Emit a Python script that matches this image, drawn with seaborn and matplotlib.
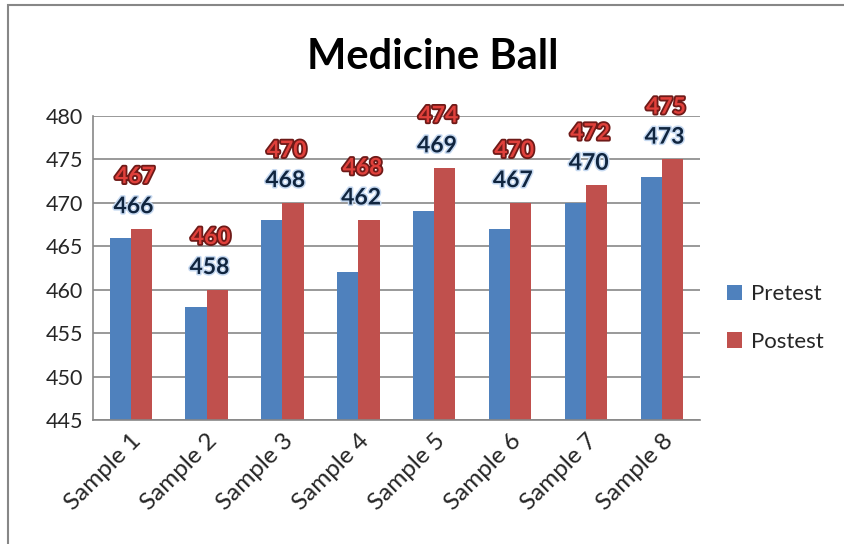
import pandas as pd
import seaborn as sns
import matplotlib.pyplot as plt
import matplotlib.patheffects as pe
from matplotlib.patches import Rectangle

samples = ["Sample 1", "Sample 2", "Sample 3", "Sample 4",
           "Sample 5", "Sample 6", "Sample 7", "Sample 8"]
pretest = [466, 458, 468, 462, 469, 467, 470, 473]
postest = [467, 460, 470, 468, 474, 470, 472, 475]
series = ["Pretest", "Postest"]
colors = ["#4F81BD", "#C0504D"]
yticks = [445, 450, 455, 460, 465, 470, 475, 480]

df = pd.DataFrame({"sample": samples * 2,
                   "test": [series[0]] * len(samples) + [series[1]] * len(samples),
                   "value": pretest + postest})

sns.set_style("white")
plt.rcParams["font.family"] = ["Lato", "DejaVu Sans"]

fig = plt.figure(figsize=(8.44, 5.44), dpi=100)
ax = fig.add_axes([0.110, 0.228, 0.719, 0.559])

sns.barplot(data=df, x="sample", y="value", hue="test", palette=colors,
            width=0.56, ax=ax, saturation=1, linewidth=0, legend=True)

ax.set_ylim(445, 480)
ax.set_yticks(yticks)
ax.set_yticklabels([str(t) for t in yticks], fontsize=15.5)
ax.yaxis.grid(True, color="#878787", linewidth=1.2)
ax.set_axisbelow(True)
ax.set_xlabel("")
ax.set_ylabel("")
ax.set_xticks(range(len(samples)))
ax.set_xticklabels(samples, rotation=45, ha="right", rotation_mode="anchor", fontsize=17.5)
ax.tick_params(axis="both", length=0, pad=7)
for s in ["top", "right"]:
    ax.spines[s].set_visible(False)
for s in ["left", "bottom"]:
    ax.spines[s].set_color("#878787")
    ax.spines[s].set_linewidth(1.2)

# data labels: postest above its bar, pretest under the postest label
for i in range(len(samples)):
    y_post = postest[i] + 6.0
    y_pre = max(pretest[i] + 3.1, y_post - 3.45)
    ax.annotate(str(pretest[i]), (i, y_pre), xytext=(2, 0), textcoords="offset points",
                ha="center", va="center", fontsize=16.5, fontweight="bold", color="#10253F",
                annotation_clip=False,
                path_effects=[pe.withStroke(linewidth=2.2, foreground="#C6D9F1")])
    ax.annotate(str(postest[i]), (i, y_post), xytext=(3, 0), textcoords="offset points",
                ha="center", va="center", fontsize=16.5, fontweight="bold", color="#E0403B",
                annotation_clip=False,
                path_effects=[pe.withStroke(linewidth=2.6, foreground="#6E1A18")])

fig.text(0.513, 0.895, "Medicine Ball", fontsize=30, fontweight="bold",
         ha="center", va="center", color="black")

h, l = ax.get_legend_handles_labels()
ax.legend(h, l, loc="center left", bbox_to_anchor=(1.03, 0.335), borderaxespad=0,
          frameon=False, fontsize=16, handlelength=0.7, handleheight=0.7,
          labelspacing=1.25, handletextpad=0.4)

fig.patches.append(Rectangle((0.0095, -0.05), 1.1, 1.04, transform=fig.transFigure,
                             fill=False, edgecolor="#878787", linewidth=1.5))

fig.savefig("out.png", dpi=100)
